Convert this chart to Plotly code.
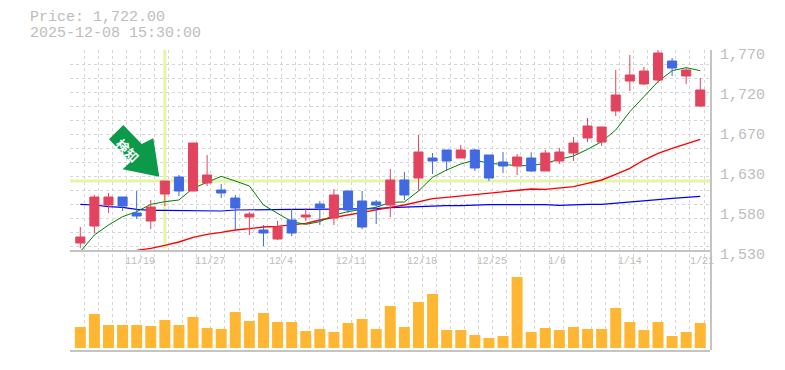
import plotly.graph_objects as go

tick_labels = ["11/19", "11/27", "12/4", "12/11", "12/18", "12/25", "1/6", "1/14", "1/21"]
price_labels = ["1,530", "1,580", "1,630", "1,670", "1,720", "1,770"]

# body top / body bottom / high / low
high = [1558.2,1596.6,1599,1594.2,1601.4,1590.6,1613.4,1620.6,1659,1644.6,1609.8,1596.6,1576.2,1560.6,1565.4,1579.8,
        1581,1589.4,1603.8,1601.4,1601.4,1590.6,1627.8,1624.2,1668.6,1647,1650.6,1656.6,1651.8,1644.6,1648.2,1645.8,
        1647.8,1650.6,1653,1666.2,1689,1678.2,1746.6,1764.6,1750.2,1770.6,1761,1749,1737]
top = [1546.2,1594.2,1594.2,1594.2,1575,1582.2,1613.4,1618.2,1659,1620.6,1602.6,1593,1573.8,1554.6,1558.2,1566.6,
       1572.6,1585.8,1596.6,1601.4,1589.4,1588.2,1614.6,1614.6,1648.2,1641,1650.6,1650.6,1650.6,1644.6,1636.2,1642.2,
       1641,1647,1648.2,1659,1679.4,1678.2,1716.6,1740.6,1745.4,1767,1757.4,1746.6,1722.6]
bottom = [1539,1559.4,1584.6,1583.4,1571.4,1565.4,1597.8,1601.4,1601.4,1611,1599,1581,1570.2,1551,1543.8,1551,
          1570.2,1581,1569,1578.6,1558.2,1584.6,1584.6,1596.6,1617,1637.4,1637.4,1641,1629,1617,1631.4,1631.4,
          1625.4,1625.4,1637.4,1647,1665,1660.2,1697.4,1733.4,1729.8,1734.6,1749,1739.4,1703.4]
low = [1532.6,1550.6,1575,1577.4,1568,1555.8,1583.4,1595.4,1601.4,1607.4,1593,1555.8,1548.6,1535.4,1542.6,1547.4,
       1565.4,1560.6,1560.6,1575,1555.8,1561.8,1570.2,1590.6,1601.4,1621.8,1625.4,1641,1625.4,1613.4,1623,1620.6,
       1624.2,1625.4,1633.8,1637.4,1660.2,1655.4,1691.4,1721.4,1728.6,1731,1739.4,1729.8,1702.2]
is_up = [1,1,1,0,0,1,1,0,1,1,0,0,1,0,1,0,1,0,1,0,0,0,1,0,1,0,0,1,0,0,0,1,0,1,1,1,1,1,1,1,1,1,0,1,1]

ma_short = [1528.6,1548.6,1560.6,1570.6,1576.6,1585.4,1588.6,1590.6,1604.6,1611.4,1619,1613.4,1607.4,1584.6,1574.6,1564.6,
            1561.4,1564.6,1572.6,1576.6,1579.4,1581.8,1587.8,1588.2,1601.4,1617.8,1626.6,1633.8,1638.6,1634.6,1633.4,1631.8,
            1631.8,1634.6,1639.4,1643.4,1651.4,1660.6,1674.6,1696.6,1714.6,1732.6,1745.8,1749.4,1745.8]
ma_mid = [None,None,None,None,1530.2,1532.6,1536.2,1540.2,1545.8,1549.4,1551.8,1554.6,1556.2,1558.2,1559,1560.6,
          1562.6,1566.6,1569.8,1572.6,1575.4,1578.6,1581.8,1584.6,1588.6,1592.2,1593.8,1595.4,1597,1599,1601,1602.6,
          1603.8,1603.4,1604.6,1606.6,1610.6,1614.6,1621.4,1628.6,1638.6,1646.6,1652.6,1657.8,1663.4]
ma_long = [1585.4,1584.6,1582.6,1581.8,1579.4,1578.2,1578.2,1578.2,1578.2,1577.4,1577.4,1578.6,1579,1579,1579.4,1579.4,
           1579.4,1579.4,1579.4,1579.4,1580.2,1580.2,1581.4,1582.2,1583,1583,1583.8,1583.8,1584.6,1585,1585,1585,
           1585.4,1585,1584.2,1585,1585.4,1585.4,1586.6,1587.8,1589.4,1591,1592.6,1593.8,1595]
volume = [21,34,23,23,23,22,28,23,31,20,19,36,27,35,26,26,17,19,16,25,29,19,42,
          21,46,54,18,18,13,10,12,71,16,20,18,21,19,19,40,26,18,26,12,16,25]

signal_index = 6
signal_price = 1613.4
GRAY = "#bdbdbd"
GRID = "#d6d6d6"
HILITE = "#e4f5a8"
FONT = "Liberation Mono"

n = len(high)
index = list(range(n))
opens = [b if u else t for t, b, u in zip(top, bottom, is_up)]
closes = [t if u else b for t, b, u in zip(top, bottom, is_up)]

X_RANGE = [-0.731, 44.69]
P_RANGE = [1530, 1770.6]
P_DOMAIN = [0.33167, 1]
tick_pos = [4.24, 9.2, 14.24, 19.2, 24.25, 29.2, 33.83, 39.0, 44.12]
price_ticks = [1530, 1578, 1626, 1674, 1722, 1770]

fig = go.Figure()
fig.add_trace(go.Scatter(x=[0], y=[0], xaxis="x", yaxis="y", mode="markers",
                         marker=dict(opacity=0), showlegend=False, hoverinfo="skip"))
fig.add_trace(go.Scatter(x=X_RANGE, y=[signal_price, signal_price], xaxis="x2", yaxis="y2", mode="lines",
                         line=dict(color=HILITE, width=3), showlegend=False, hoverinfo="skip"))
fig.add_trace(go.Scatter(x=[signal_index, signal_index], y=[1532.4, P_RANGE[1]], xaxis="x2", yaxis="y2", mode="lines",
                         line=dict(color=HILITE, width=3), showlegend=False, hoverinfo="skip"))
for vals, col, w in ((ma_long, "#0000ff", 1.2), (ma_mid, "#ff0000", 1.4), (ma_short, "#008000", 1)):
    fig.add_trace(go.Scatter(x=index, y=vals, xaxis="x2", yaxis="y2", mode="lines",
                             line=dict(color=col, width=w), showlegend=False))
fig.add_trace(go.Candlestick(x=index, open=opens, high=high, low=low, close=closes, xaxis="x3", yaxis="y3",
                             increasing=dict(line=dict(color="#e2445f", width=1), fillcolor="#e2445f"),
                             decreasing=dict(line=dict(color="#4169e1", width=1), fillcolor="#4169e1"),
                             whiskerwidth=0, showlegend=False))
fig.add_trace(go.Bar(x=index, y=volume, xaxis="x4", yaxis="y4", marker=dict(color="#ffb733", line=dict(width=0)),
                     width=0.78, showlegend=False))

off = dict(showgrid=False, zeroline=False, showticklabels=False, ticks="", showline=False, automargin=False)
line = dict(showline=True, linecolor="#c4c4c4", linewidth=2, automargin=False)

layout = dict(
    width=769, height=354, autosize=False,
    margin=dict(l=62, r=67, t=42, b=12, pad=0, autoexpand=False),
    paper_bgcolor="white", plot_bgcolor="rgba(0,0,0,0)",
    boxgap=0.08, showlegend=False,
    xaxis=dict(range=X_RANGE, domain=[0, 1], anchor="y", tick0=X_RANGE[0], dtick=1, showgrid=True, automargin=False,
               gridcolor=GRID, griddash="3px,3px", gridwidth=1, zeroline=False, showticklabels=False, ticks=""),
    yaxis=dict(range=[0, 1], domain=[0, 1], anchor="x", side="right", showgrid=False, zeroline=False,
               showticklabels=False, ticks="", **line),
    xaxis2=dict(range=X_RANGE, domain=[0, 1], anchor="y2", **off),
    yaxis2=dict(range=P_RANGE, domain=P_DOMAIN, anchor="x2", tick0=1535.4, dtick=16.8, showgrid=True, automargin=False,
                gridcolor=GRID, griddash="3px,3px", gridwidth=1, zeroline=False, showticklabels=False, ticks=""),
    xaxis3=dict(range=X_RANGE, domain=[0, 1], anchor="y3", tickmode="array", tickvals=tick_pos, ticktext=tick_labels,
                tickfont=dict(family=FONT, size=10, color=GRAY), ticks="", showgrid=False, zeroline=False,
                rangeslider=dict(visible=False), tickangle=0, **line),
    yaxis3=dict(range=P_RANGE, domain=P_DOMAIN, anchor="x3", side="right", tickmode="array", tickvals=price_ticks,
                ticktext=price_labels, tickfont=dict(family=FONT, size=15, color=GRAY), ticks="outside", ticklen=6,
                tickcolor="rgba(0,0,0,0)", ticklabelshift=3, showgrid=False, zeroline=False, showline=False, automargin=False),
    xaxis4=dict(range=X_RANGE, domain=[0, 1], anchor="y4", showgrid=False, zeroline=False, showticklabels=False,
                ticks="", **line),
    yaxis4=dict(range=[-2, 98], domain=[0, 0.33333], anchor="x4", **off),
)

def px(x, y):
    return (x - 70) / 640, (350 - y) / 300

arrow_outline = [(123.3, 125), (141.7, 144), (153.3, 138.3), (159.3, 176.7), (122.7, 169.3), (130.7, 161.7), (109, 139.3)]
path = "M" + " L".join("{:.4f},{:.4f}".format(*px(a, b)) for a, b in arrow_outline) + " Z"
layout["shapes"] = [dict(type="path", xref="paper", yref="paper", path=path, fillcolor="#0a9a4a", line=dict(width=0), layer="above")]

ax, ay = px(128, 150)
tx1, ty1 = px(29, 17.5)
tx2, ty2 = px(29, 33.5)
layout["annotations"] = [
    dict(text="<b>検知</b>", xref="paper", yref="paper", x=ax, y=ay, showarrow=False, textangle=45, xanchor="center", yanchor="middle",
         font=dict(family="Noto Sans CJK JP", size=13, color="white")),
    dict(text="Price: 1,722.00", xref="paper", yref="paper", x=tx1, y=ty1, showarrow=False, xanchor="left", yanchor="middle", borderpad=0,
         font=dict(family=FONT, size=15, color=GRAY)),
    dict(text="2025-12-08 15:30:00", xref="paper", yref="paper", x=tx2, y=ty2, showarrow=False, xanchor="left", yanchor="middle", borderpad=0,
         font=dict(family=FONT, size=15, color=GRAY)),
]
fig.update_layout(**layout)
fig.write_html("out.html")
